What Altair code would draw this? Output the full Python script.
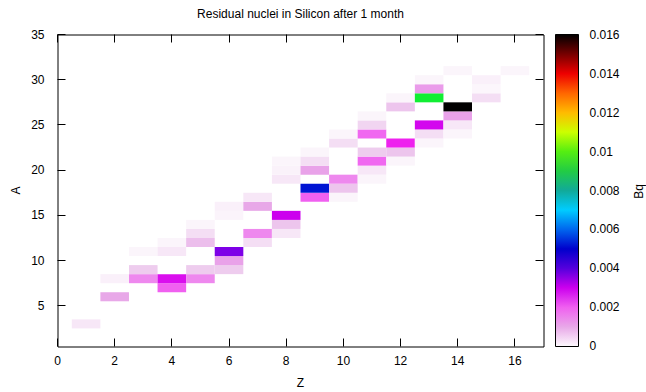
import altair as alt
import pandas as pd

# Z (protons), A (mass number), activity in Bq
Z_vals = [1, 2, 2, 3, 3, 3, 4, 4, 4, 4, 5, 5, 5, 5, 5, 6, 6, 6, 6, 6,
          7, 7, 7, 7, 8, 8, 8, 8, 8, 8, 9, 9, 9, 9, 9, 10, 10, 10, 10, 10,
          11, 11, 11, 11, 11, 11, 11, 12, 12, 12, 12, 12, 13, 13, 13, 13, 13, 13,
          14, 14, 14, 14, 14, 15, 15, 15, 16]
A_vals = [3, 6, 8, 8, 9, 11, 7, 8, 11, 12, 8, 9, 12, 13, 14, 9, 10, 11, 15, 16,
          12, 13, 16, 17, 13, 14, 15, 19, 20, 21, 17, 18, 20, 21, 22, 17, 18, 19, 23, 24,
          19, 20, 21, 22, 24, 25, 26, 21, 22, 23, 27, 28, 23, 24, 25, 28, 29, 30,
          24, 25, 26, 27, 31, 28, 29, 30, 31]
Bq_vals = [0.0002, 0.0010, 0.0001, 0.0015, 0.0005, 0.00005, 0.0020, 0.0028, 0.0002, 0.00005,
           0.0015, 0.0005, 0.0007, 0.0003, 0.00005, 0.0005, 0.0011, 0.0037, 0.00006, 0.0001,
           0.0003, 0.0015, 0.0010, 0.0002, 0.0002, 0.0006, 0.0030, 0.0002, 0.00008, 0.00005,
           0.0020, 0.0052, 0.0011, 0.0003, 0.00005, 0.00005, 0.0006, 0.0015, 0.0003, 0.00005,
           0.00005, 0.0002, 0.0019, 0.0005, 0.0019, 0.0004, 0.00005,
           0.00005, 0.0006, 0.0025, 0.0006, 0.00005,
           0.00005, 0.0003, 0.0029, 0.0095, 0.0012, 0.00005,
           0.00005, 0.0002, 0.0011, 0.0160, 0.00005,
           0.0003, 0.00003, 0.0001, 0.00005]

# colour palette stops (value -> colour)
pal_stops = [-0.00001, 0.0005, 0.001, 0.0015, 0.002, 0.0025, 0.003, 0.0035, 0.004, 0.0045,
             0.005, 0.0055, 0.006, 0.0065, 0.007, 0.0075, 0.008, 0.0085, 0.009, 0.0095,
             0.010, 0.011, 0.0115, 0.012, 0.013, 0.014, 0.015, 0.01601]
pal_colors = ["#fdfafd", "#eeccee", "#e8a8e8", "#ee88ee", "#f060f0", "#ee22ee", "#cc00ee", "#9900ee",
              "#5500dd", "#2200cc", "#0000cc", "#0033dd", "#0066ee", "#0099ff", "#00ccff", "#00bbcc",
              "#11aa99", "#22bb66", "#22cc44", "#11ee33", "#55ee11", "#ccff00", "#ffee00", "#ffbb00",
              "#ff6600", "#ee0000", "#770000", "#000000"]
cb_ticks = [0, 0.002, 0.004, 0.006, 0.008, 0.01, 0.012, 0.014, 0.016]
x_ticks = [0, 2, 4, 6, 8, 10, 12, 14, 16]
y_ticks = [5, 10, 15, 20, 25, 30, 35]
cb_title = ["Bq"]

df = pd.DataFrame({"Z": Z_vals, "A": A_vals, "Bq": Bq_vals})

FONT = "Liberation Sans"
xscale = alt.Scale(domain=[0, 17], nice=False, zero=False)
yscale = alt.Scale(domain=[0.5, 35], nice=False, zero=False)

axis_common = dict(tickSize=8, offset=-8, domain=False, grid=False, tickColor="black",
                   labelColor="black", titleColor="black", labelFont=FONT, titleFont=FONT,
                   labelFontSize=12, titleFontSize=12, titleFontWeight="normal", format="d",
                   translate=0)

heat = alt.Chart(df).transform_calculate(
    x0="datum.Z - 0.5", x1="datum.Z + 0.5", y0="datum.A - 0.5", y1="datum.A + 0.5"
).mark_rect().encode(
    x=alt.X("x0:Q", scale=xscale,
            axis=alt.Axis(values=x_ticks, title="Z", labelPadding=9, titlePadding=11,
                          labelFlush=False, **axis_common)),
    x2="x1:Q",
    y=alt.Y("y0:Q", scale=yscale,
            axis=alt.Axis(values=y_ticks, title="A", labelPadding=13, titlePadding=8,
                          labelFlush=False, **axis_common)),
    y2="y1:Q",
    color=alt.Color("Bq:Q",
                    scale=alt.Scale(domain=pal_stops, range=pal_colors, interpolate="rgb"),
                    legend=alt.Legend(orient="none", legendX=498, legendY=0, direction="vertical",
                                      gradientLength=312, gradientThickness=23,
                                      gradientStrokeColor="black", gradientStrokeWidth=1,
                                      values=cb_ticks, format="~g", labelOverlap=False,
                                      labelFont=FONT, labelFontSize=12, labelColor="black",
                                      labelOffset=11, labelBaseline="middle",
                                      title=None, padding=0)),
)

mirror = alt.Chart(df).mark_point(opacity=0).encode(
    x=alt.X("Z:Q", scale=xscale,
            axis=alt.Axis(orient="top", values=x_ticks, labels=False, title=None, **axis_common)),
    y=alt.Y("A:Q", scale=yscale,
            axis=alt.Axis(orient="right", values=y_ticks, labels=False, title=None, **axis_common)),
)

bq = alt.Chart(pd.DataFrame({"t": cb_title})).mark_text(
    angle=270, font=FONT, fontSize=12, color="black", align="center", baseline="middle"
).encode(x=alt.value(581), y=alt.value(157), text="t:N")

chart = alt.layer(heat, mirror, bq).resolve_axis(x="independent", y="independent").properties(
    width=486, height=312,
    background="white",
    title=alt.TitleParams("Residual nuclei in Silicon after 1 month", fontSize=12,
                          fontWeight="normal", font=FONT, anchor="middle", offset=8,
                          color="black"),
    autosize=alt.AutoSizeParams(type="none"),
    padding={"left": 57.5, "top": 34.5, "right": 102.5, "bottom": 45.5},
).configure_view(stroke="black", strokeWidth=1)

chart.save("out.html", embed_options={"renderer": "svg", "actions": False})
